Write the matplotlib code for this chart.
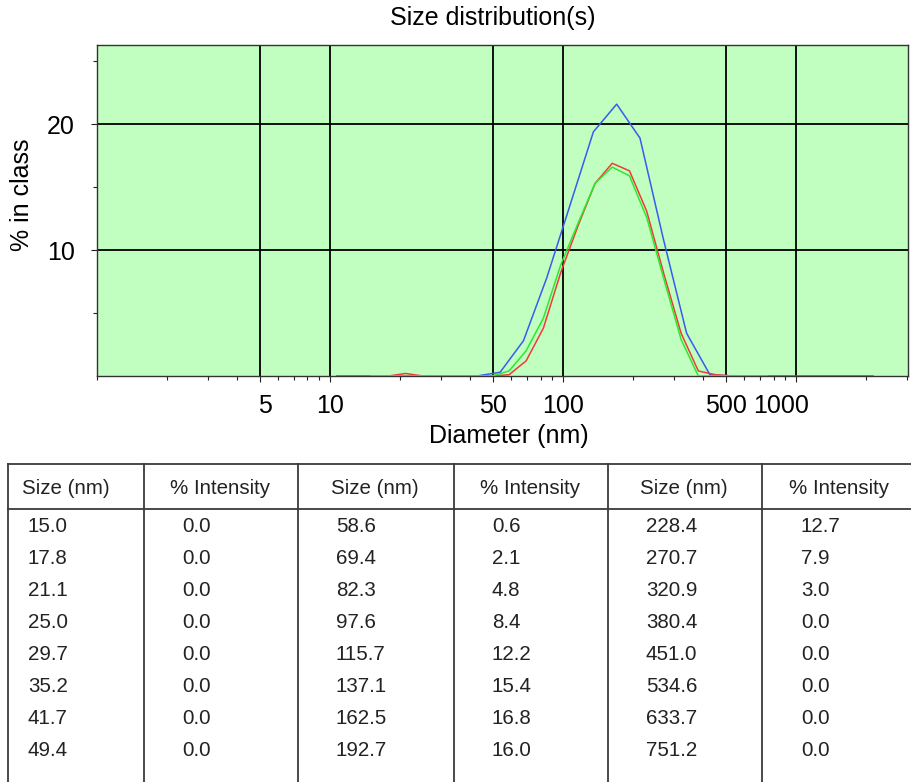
"""Size distribution chart with intensity table underneath."""

import matplotlib

matplotlib.use("Agg")
import matplotlib.pyplot as plt
import matplotlib.transforms as mtransforms
from matplotlib.ticker import FixedLocator, NullFormatter

plt.rcParams["font.family"] = ["Liberation Sans", "DejaVu Sans"]

# plotted records (size bins in nm, % in class)
blue_size = [10.7, 13.5, 17.0, 21.4, 26.9, 33.9, 42.7, 53.7, 67.6, 85.1, 107.2, 134.9,
             169.8, 213.8, 269.2, 338.8, 426.6, 537.0, 676.1, 851.1, 1071.5, 1349.0,
             1698.2, 2138.0]
blue_pct = [0.0, 0.0, 0.0, 0.0, 0.0, 0.0, 0.0, 0.3, 2.8, 7.8, 13.6, 19.4,
            21.6, 18.9, 10.9, 3.4, 0.1, 0.0, 0.0, 0.0, 0.0, 0.0,
            0.0, 0.0]

bin_size = [15.0, 17.8, 21.1, 25.0, 29.7, 35.2, 41.7, 49.4, 58.6, 69.4, 82.3, 97.6,
            115.7, 137.1, 162.5, 192.7, 228.4, 270.7, 320.9, 380.4, 451.0, 534.6,
            633.7, 751.2]
red_pct = [0.0, 0.0, 0.2, 0.0, 0.0, 0.0, 0.0, 0.0, 0.1, 1.2, 3.8, 8.2,
           11.9, 15.3, 16.9, 16.3, 13.1, 8.1, 3.4, 0.4, 0.1, 0.0,
           0.0, 0.0]
green_pct = [0.0, 0.0, 0.0, 0.0, 0.0, 0.0, 0.0, 0.0, 0.4, 2.0, 4.6, 8.8,
             12.1, 15.3, 16.6, 15.9, 12.6, 7.7, 2.9, 0.0, 0.0, 0.0,
             0.0, 0.0]

# table below the chart
table_size = ["15.0", "17.8", "21.1", "25.0", "29.7", "35.2", "41.7", "49.4",
              "58.6", "69.4", "82.3", "97.6", "115.7", "137.1", "162.5", "192.7",
              "228.4", "270.7", "320.9", "380.4", "451.0", "534.6", "633.7", "751.2"]
table_intensity = ["0.0", "0.0", "0.0", "0.0", "0.0", "0.0", "0.0", "0.0",
                   "0.6", "2.1", "4.8", "8.4", "12.2", "15.4", "16.8", "16.0",
                   "12.7", "7.9", "3.0", "0.0", "0.0", "0.0", "0.0", "0.0"]
table_headers = ["Size (nm)", "% Intensity"] * 3

x_labelled = [5, 10, 50, 100, 500, 1000]
y_labelled = [10, 20]

W, H = 912, 782
fig = plt.figure(figsize=(W / 100, H / 100), dpi=100)

left, right, top, bottom = 97, 908, 45, 376
ax = fig.add_axes([left / W, 1 - bottom / H, (right - left) / W, (bottom - top) / H])
ax.set_facecolor("#c0ffc0")
ax.set_xscale("log")
ax.set_xlim(1, 3020)
ax.set_ylim(0, 26.3)

ax.plot(blue_size, blue_pct, color="#3a5af0", lw=1.1, zorder=3)
ax.plot(bin_size, red_pct, color="#f03a3a", lw=1.1, zorder=3)
ax.plot(bin_size, green_pct, color="#2ee82e", lw=1.1, zorder=4)

for xv in x_labelled:
    ax.axvline(xv, color="black", lw=1.3, zorder=2)
for yv in y_labelled:
    ax.axhline(yv, color="black", lw=1.3, zorder=2)

minor_x = [m * 10 ** d for d in range(0, 4) for m in range(1, 10) if m * 10 ** d <= 3000]
ax.xaxis.set_major_locator(FixedLocator(x_labelled))
ax.xaxis.set_minor_locator(FixedLocator(minor_x))
ax.xaxis.set_minor_formatter(NullFormatter())
ax.set_xticklabels([str(v) for v in x_labelled])
ax.yaxis.set_major_locator(FixedLocator(y_labelled))
ax.yaxis.set_minor_locator(FixedLocator([5, 15, 25]))
ax.set_yticklabels([str(v) for v in y_labelled])
ax.tick_params(which="both", direction="out", colors="#222222", labelcolor="black",
               labelsize=18, width=0.8)
ax.tick_params(which="major", length=4)
ax.tick_params(which="minor", length=3)
ax.tick_params(axis="x", pad=9)
ax.tick_params(axis="y", pad=12)
for sp in ax.spines.values():
    sp.set_color("#333333")
    sp.set_linewidth(1.0)

# nudge the first and last labels the way the original software places them
shifts = {"5": 5, "1000": -15}
for lab in ax.get_xticklabels():
    dx = shifts.get(lab.get_text(), 0)
    if dx:
        lab.set_transform(lab.get_transform()
                          + mtransforms.ScaledTranslation(dx / 100, 0, fig.dpi_scale_trans))

fig.text(493 / W, 1 - 18 / H, "Size distribution(s)", ha="center", va="center", fontsize=18)
fig.text(509 / W, 1 - 436 / H, "Diameter (nm)", ha="center", va="center", fontsize=18)
fig.text(22 / W, 1 - 195 / H, "% in class", ha="center", va="center", rotation=90,
         fontsize=18)

# table drawn in pixel coordinates on an overlay
tab = fig.add_axes([0, 0, 1, 1], zorder=-1)
tab.set_xlim(0, W)
tab.set_ylim(H, 0)
tab.axis("off")
col_edges = [8, 144, 298, 454, 608, 762]
header_x = [66, 220, 375, 530, 684, 839]
value_x = [28, 182, 336, 492, 646, 801]
tab_top, head_bottom = 464, 509
row_y0, row_step = 527, 32
line_col = "#3a3a3a"
tab.plot([col_edges[0], W], [tab_top, tab_top], color=line_col, lw=1.3)
tab.plot([col_edges[0], W], [head_bottom, head_bottom], color=line_col, lw=1.3)
for cx in col_edges:
    tab.plot([cx, cx], [tab_top, H], color=line_col, lw=1.3)
for hx, label in zip(header_x, table_headers):
    tab.text(hx, 489, label, ha="center", va="center", fontsize=14.8, color="#222222")
for block in range(3):
    sizes = table_size[block * 8:(block + 1) * 8]
    vals = table_intensity[block * 8:(block + 1) * 8]
    for i, (s, v) in enumerate(zip(sizes, vals)):
        yy = row_y0 + i * row_step
        tab.text(value_x[2 * block], yy, s, ha="left", va="center", fontsize=14.8,
                 color="#222222")
        tab.text(value_x[2 * block + 1], yy, v, ha="left", va="center", fontsize=14.8,
                 color="#222222")

fig.savefig("out.png", dpi=100)
